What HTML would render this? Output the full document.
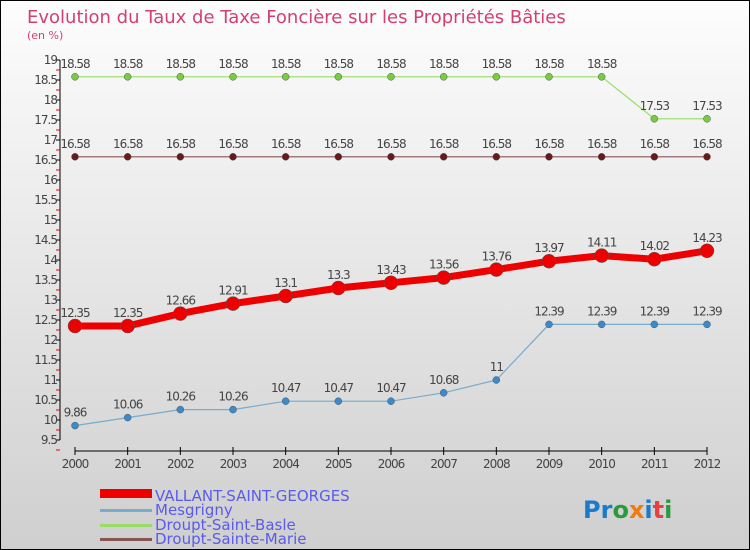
<!DOCTYPE html>
<html><head><meta charset="utf-8"><style>
body{margin:0;}
#c{width:748px;height:548px;border:1px solid #000;background:linear-gradient(#fdfdfd,#cfcfcf);position:relative;font-family:"DejaVu Sans","Liberation Sans",sans-serif;overflow:hidden}
</style></head><body>
<div id="c">
<svg id="s" width="748" height="548" xmlns="http://www.w3.org/2000/svg">
<text x="26" y="22" font-size="18" fill="#d4406e">Evolution du Taux de Taxe Foncière sur les Propriétés Bâties</text>
<text x="26" y="38" font-size="11" fill="#d4406e">(en %)</text>
<g id="axes"></g><g id="series"></g>
<g>
<rect x="99" y="488" width="52" height="9" fill="#e00"/>
<text x="154" y="500" font-size="15" fill="#5a5aee">VALLANT-SAINT-GEORGES</text>
<rect x="99" y="508" width="52" height="3" fill="#7aaacc"/>
<text x="154" y="514" font-size="15" fill="#5a5aee">Mesgrigny</text>
<rect x="99" y="523" width="52" height="3" fill="#99dd66"/>
<text x="154" y="529" font-size="15" fill="#5a5aee">Droupt-Saint-Basle</text>
<rect x="99" y="537" width="52" height="3" fill="#885555"/>
<text x="154" y="543" font-size="15" fill="#5a5aee">Droupt-Sainte-Marie</text>
</g>
<text x="582" y="517" font-size="24" font-weight="bold"><tspan fill="#1a7acc">Pr</tspan><tspan fill="#2a9a3a">o</tspan><tspan fill="#f07a10">x</tspan><tspan fill="#1a7acc">i</tspan><tspan fill="#e84040">t</tspan><tspan fill="#2a9a3a">i</tspan></text>
</svg></div>
<script>
const years=[2000,2001,2002,2003,2004,2005,2006,2007,2008,2009,2010,2011,2012];
const vallant=[12.35,12.35,12.66,12.91,13.1,13.3,13.43,13.56,13.76,13.97,14.11,14.02,14.23];
const mesgrigny=[9.86,10.06,10.26,10.26,10.47,10.47,10.47,10.68,11,12.39,12.39,12.39,12.39];
const basle=[18.58,18.58,18.58,18.58,18.58,18.58,18.58,18.58,18.58,18.58,18.58,17.53,17.53];
const marie=[16.58,16.58,16.58,16.58,16.58,16.58,16.58,16.58,16.58,16.58,16.58,16.58,16.58];
const yTicks=[9.5,10,10.5,11,11.5,12,12.5,13,13.5,14,14.5,15,15.5,16,16.5,17,17.5,18,18.5,19];
const NS="http://www.w3.org/2000/svg";
const X=i=>74+i*(632/(years.length-1));
const Y=v=>59+(19-v)*40;
function mk(t,a,p){const e=document.createElementNS(NS,t);for(const k in a)e.setAttribute(k,a[k]);p.appendChild(e);return e;}
const ax=document.getElementById('axes');
let l=mk('line',{x1:59,y1:Y(19),x2:59,y2:Y(9.5),stroke:'#000'},ax);


yTicks.forEach(v=>{
 let t=mk('line',{x1:55,y1:Y(v),x2:59,y2:Y(v),stroke:'#000'},ax);
 
 
 let m=mk('line',{x1:55,y1:Y(v)+10,x2:59,y2:Y(v)+10,stroke:'#e00'},ax);
 
 
 let tx=mk('text',{x:56,y:Y(v)+4,'font-size':12,fill:'#444','text-anchor':'end','letter-spacing':'-1'},ax);
 tx.textContent=String(v);
 
 
});
let xl=mk('line',{x1:X(0),y1:450,x2:X(12),y2:450,stroke:'#000'},ax);


years.forEach((y,i)=>{
 let t=mk('line',{x1:X(i),y1:446,x2:X(i),y2:454,stroke:'#000'},ax);
 
 
 let tx=mk('text',{x:X(i),y:467,'font-size':12,fill:'#444','text-anchor':'middle','letter-spacing':'-1'},ax);
 tx.textContent=y;
 
 
});
const sg=document.getElementById('series');
function series(vals,name,color,w,r,dot){
 const g=mk('g',{},sg);
 
 
 const p=mk('polyline',{points:vals.map((v,i)=>X(i)+','+Y(v)).join(' '),fill:'none',stroke:color,'stroke-width':w},g);
 
 
 vals.forEach((v,i)=>{
  const c=mk('circle',{cx:X(i),cy:Y(v),r:r,fill:dot,stroke:'#555','stroke-width':0.5},g);
  
  
  const t=mk('text',{x:X(i),y:Y(v)-9,'font-size':12,fill:'#444','text-anchor':'middle','letter-spacing':'-1'},g);
  t.textContent=String(v);
  
  
 });
}
series(basle,'droupt-saint-basle','#99dd66',1.2,3.5,'#77cc44');
series(marie,'droupt-sainte-marie','#885555',1.2,3.5,'#661a1a');
series(mesgrigny,'mesgrigny','#7aaacc',1.2,3.5,'#3a8acc');
series(vallant,'vallant-saint-georges','#ee0000',7,7,'#ee0000');
</script>
</body></html>
